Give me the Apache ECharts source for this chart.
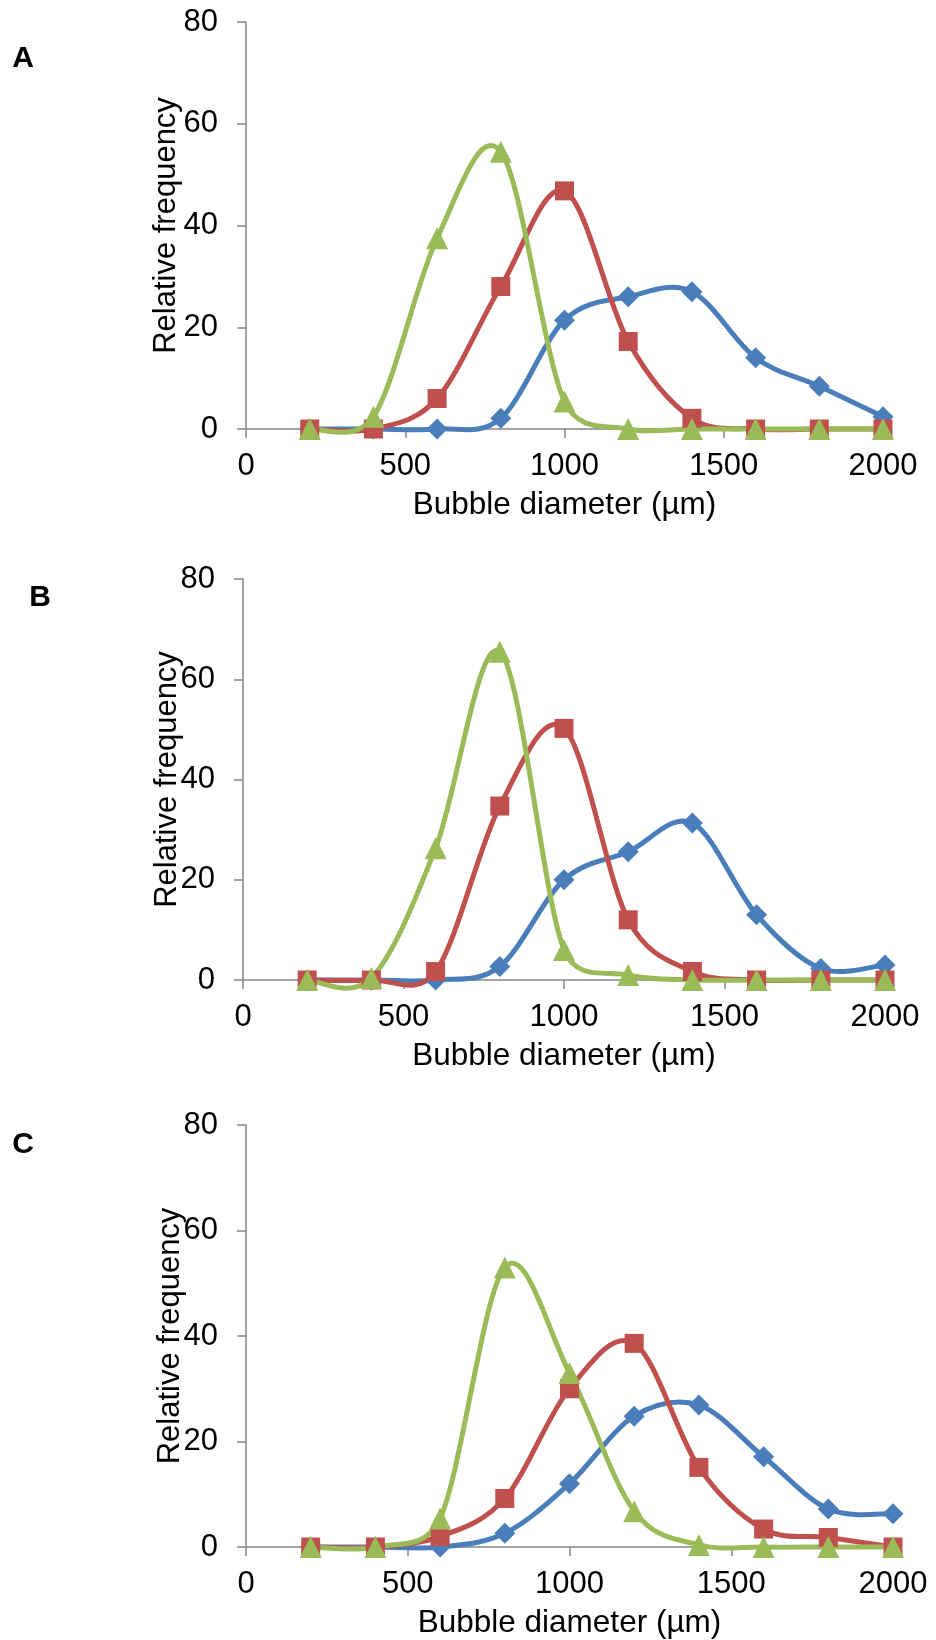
<!DOCTYPE html>
<html>
<head>
<meta charset="utf-8">
<title>Bubble diameter distributions</title>
<script src="https://cdn.jsdelivr.net/npm/echarts@6/dist/echarts.min.js"></script>
<style>
  html, body { margin: 0; padding: 0; background: #fff; }
  #chart { width: 936px; height: 1640px; }
</style>
</head>
<body>
<div id="chart"></div>
<script>
// bubble diameter classes (µm)
const diameters = [200, 400, 600, 800, 1000, 1200, 1400, 1600, 1800, 2000]

// panel A
const blueA = [0, 0, 0, 2.1, 21.4, 26, 27, 14, 8.4, 2.4]
const redA = [0, 0, 6, 28, 46.8, 17.2, 2.1, 0, 0, 0]
const greenA = [0, 2.4, 37.5, 54.5, 5.4, 0, 0, 0, 0, 0]

// panel B
const blueB = [0, 0, 0, 2.7, 20, 25.6, 31.3, 13, 2.3, 3]
const redB = [0, 0, 1.7, 34.7, 50.2, 12, 1.7, 0, 0, 0]
const greenB = [0, 0.4, 26.3, 65.5, 6, 1, 0, 0, 0, 0]

// panel C
const blueC = [0, 0, 0, 2.6, 12, 24.8, 26.9, 17.1, 7.2, 6.3]
const redC = [0, 0, 2, 9.2, 30, 38.6, 15.1, 3.4, 1.8, 0]
const greenC = [0, 0, 5.4, 53, 33, 6.8, 0.4, 0, 0, 0]

const xTicks = [0, 500, 1000, 1500, 2000]
const yTicks = [0, 20, 40, 60, 80]
const panelLabels = ['A', 'B', 'C']

const FONT = '"Liberation Sans", Arial, sans-serif'
const AXIS_GREY = '#868686'
const BLUE = '#4a7ebb'
const RED = '#c0504d'
const GREEN = '#9bbb59'

// plot areas
const grids = [
  { left: 246, top: 22, width: 637, height: 407 },
  { left: 243, top: 579, width: 642, height: 401 },
  { left: 246, top: 1125, width: 647, height: 427 }
]
const yNameGaps = [64, 60, 60]
const labelPos = [[23, 59], [40, 598], [23, 1145]]

const axisLine = { lineStyle: { color: AXIS_GREY, width: 1.5 } }
const axisTick = { inside: false, length: 9, lineStyle: { color: AXIS_GREY, width: 1.5 } }

function pairs(ys) {
  return diameters.map((d, i) => [d, ys[i]])
}

const xAxis = grids.map((g, i) => ({
  type: 'value',
  gridIndex: i,
  min: xTicks[0],
  max: xTicks[xTicks.length - 1],
  interval: xTicks[1] - xTicks[0],
  name: 'Bubble diameter (µm)',
  nameLocation: 'middle',
  nameGap: 60,
  nameMoveOverlap: false,
  nameTextStyle: { fontFamily: FONT, fontSize: 31.5, color: '#000' },
  axisLine: axisLine,
  axisTick: axisTick,
  axisLabel: { fontFamily: FONT, fontSize: 31, color: '#000', margin: 22, formatter: v => String(v) },
  splitLine: { show: false }
}))

const yAxis = grids.map((g, i) => ({
  type: 'value',
  gridIndex: i,
  min: yTicks[0],
  max: yTicks[yTicks.length - 1],
  interval: yTicks[1] - yTicks[0],
  name: 'Relative frequency',
  nameLocation: 'middle',
  nameGap: yNameGaps[i],
  nameMoveOverlap: false,
  nameTextStyle: { fontFamily: FONT, fontSize: 31, color: '#000' },
  axisLine: { show: true, lineStyle: axisLine.lineStyle },
  axisTick: { show: true, length: 9, lineStyle: axisTick.lineStyle },
  axisLabel: { fontFamily: FONT, fontSize: 31, color: '#000', margin: 28 },
  splitLine: { show: false }
}))

// cap a control point offset at half the segment length (as Excel does)
function capped(vx, vy, segLen) {
  const len = Math.hypot(vx, vy)
  if (len > segLen / 2 && len > 0) {
    const k = segLen / 2 / len
    return [vx * k, vy * k]
  }
  return [vx, vy]
}

// Excel style smoothed line: catmull-rom segments between neighbouring points,
// positions come from api.coord so the axes do the scaling
function curve(ys, idx, color) {
  return {
    type: 'custom',
    xAxisIndex: idx,
    yAxisIndex: idx,
    data: pairs(ys),
    silent: true,
    renderItem: function (params, api) {
      const i = params.dataIndex
      const n = ys.length
      if (i >= n - 1) return null
      const pt = k => {
        const j = Math.max(0, Math.min(n - 1, k))
        return api.coord([diameters[j], ys[j]])
      }
      const p0 = pt(i - 1)
      const p1 = pt(i)
      const p2 = pt(i + 1)
      const p3 = pt(i + 2)
      const seg = Math.hypot(p2[0] - p1[0], p2[1] - p1[1])
      const a = capped((p2[0] - p0[0]) / 6, (p2[1] - p0[1]) / 6, seg)
      const b = capped((p3[0] - p1[0]) / 6, (p3[1] - p1[1]) / 6, seg)
      return {
        type: 'bezierCurve',
        shape: {
          x1: p1[0], y1: p1[1],
          x2: p2[0], y2: p2[1],
          cpx1: p1[0] + a[0],
          cpy1: p1[1] + a[1],
          cpx2: p2[0] - b[0],
          cpy2: p2[1] - b[1]
        },
        style: { stroke: color, lineWidth: 5, fill: null, lineCap: 'round', lineJoin: 'round' }
      }
    }
  }
}

function markers(ys, idx, color, symbol, size) {
  return {
    type: 'scatter',
    xAxisIndex: idx,
    yAxisIndex: idx,
    data: pairs(ys),
    symbol: symbol,
    symbolSize: size,
    itemStyle: { color: color, opacity: 1 },
    emphasis: { disabled: true }
  }
}

const panels = [
  [blueA, redA, greenA],
  [blueB, redB, greenB],
  [blueC, redC, greenC]
]
const colors = [BLUE, RED, GREEN]
const symbols = ['diamond', 'rect', 'triangle']
const symbolSizes = [21, 19, 22]

const series = []
panels.forEach((p, i) => {
  p.forEach((ys, k) => {
    series.push(curve(ys, i, colors[k]))
    series.push(markers(ys, i, colors[k], symbols[k], symbolSizes[k]))
  })
})

const chart = echarts.init(document.getElementById('chart'), null, { renderer: 'canvas' })

chart.setOption({
  animation: false,
  backgroundColor: '#fff',
  grid: grids.map(g => Object.assign({ containLabel: false }, g)),
  xAxis: xAxis,
  yAxis: yAxis,
  series: series,
  graphic: panelLabels.map((t, i) => ({
    type: 'text',
    x: labelPos[i][0],
    y: labelPos[i][1],
    style: {
      text: t,
      font: 'bold 30px ' + FONT,
      fill: '#000',
      align: 'center',
      verticalAlign: 'middle'
    }
  }))
})
</script>
</body>
</html>
